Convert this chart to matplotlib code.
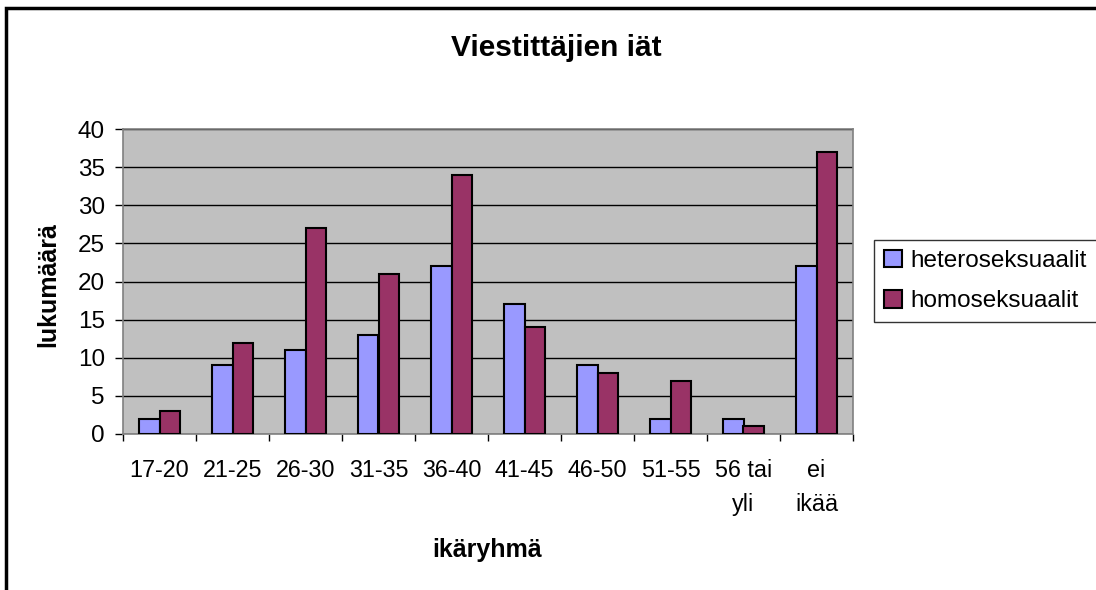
import matplotlib
matplotlib.use("Agg")
import matplotlib.pyplot as plt
import numpy as np
from matplotlib.patches import Rectangle

plt.rcParams['font.family'] = ['Liberation Sans', 'DejaVu Sans']

categories = ["17-20", "21-25", "26-30", "31-35", "36-40", "41-45", "46-50", "51-55", "56 tai\nyli", "ei\nikää"]
hetero = [2, 9, 11, 13, 22, 17, 9, 2, 2, 22]
homo = [3, 12, 27, 21, 34, 14, 8, 7, 1, 37]
series_names = ["heteroseksuaalit", "homoseksuaalit"]
yticks = [0, 5, 10, 15, 20, 25, 30, 35, 40]

W, H = 1096, 590
fig = plt.figure(figsize=(W / 100, H / 100), dpi=100)
fig.patch.set_facecolor("white")

ax = fig.add_axes([123 / W, 1 - 434 / H, (853 - 123) / W, (434 - 129) / H])
ax.set_facecolor("#C0C0C0")

x = np.arange(len(categories))
w = 1 / 3.5
ax.bar(x - w / 2, hetero, w, color="#9999FF", edgecolor="black", linewidth=1.5, label=series_names[0], zorder=3)
ax.bar(x + w / 2, homo, w, color="#993366", edgecolor="black", linewidth=1.5, label=series_names[1], zorder=3)

ax.set_xlim(-0.5, len(categories) - 0.5)
ax.set_ylim(0, 40)
ax.set_yticks(yticks)
ax.yaxis.grid(True, color="black", linewidth=1, zorder=1)
ax.set_axisbelow(True)

ax.set_xticks(np.arange(len(categories) + 1) - 0.5)
ax.set_xticklabels([])
ax.set_xticks(x, minor=True)
ax.set_xticklabels(categories, minor=True, fontsize=16.8, linespacing=1.6)
ax.tick_params(axis="x", which="major", length=5, width=1, direction="out", color="black")
ax.tick_params(axis="x", which="minor", length=0, pad=18)
ax.tick_params(axis="y", length=6, width=1, direction="out", pad=7, labelsize=17.5)

for side in ["top", "right", "left", "bottom"]:
    ax.spines[side].set_color("#808080")
    ax.spines[side].set_linewidth(1.2)

fig.text(556 / W, 1 - 48 / H, "Viestittäjien iät", ha="center", va="center", fontsize=21.5, fontweight="bold")
fig.text(48 / W, 1 - 285 / H, "lukumäärä", ha="center", va="center", rotation=90, fontsize=18, fontweight="bold")
fig.text(487 / W, 1 - 550 / H, "ikäryhmä", ha="center", va="center", fontsize=18, fontweight="bold")

leg = fig.legend(loc="center left", bbox_to_anchor=(874 / W, 1 - 281 / H), fontsize=17.5,
                 frameon=True, fancybox=False, shadow=False, edgecolor="black",
                 handlelength=0.75, handleheight=0.75, handletextpad=0.35,
                 borderpad=0.4, labelspacing=0.75, borderaxespad=0)
leg.get_frame().set_linewidth(1)

fig.patches.append(Rectangle((6 / W, -0.05), 1.1, 1 - 8 / H + 0.05, transform=fig.transFigure,
                             fill=False, edgecolor="black", linewidth=2.5, zorder=10))

fig.savefig("out.png", dpi=100)
